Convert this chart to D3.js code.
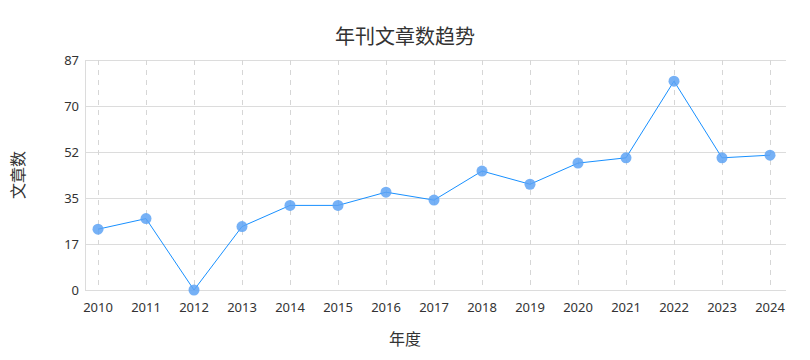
<!DOCTYPE html>
<html>
<head>
<meta charset="utf-8">
<script src="https://cdn.jsdelivr.net/npm/d3@7"></script>
<style>
  body { margin: 0; background: #fff; }
  svg text { font-family: "Noto Sans", "Noto Sans CJK SC", sans-serif; }
</style>
</head>
<body>
<div id="chart"></div>
<script>
// data
var years = ["2010", "2011", "2012", "2013", "2014", "2015", "2016", "2017",
             "2018", "2019", "2020", "2021", "2022", "2023", "2024"];
var counts = [23, 27, 0, 24, 32, 32, 37, 34, 45, 40, 48, 50, 79, 50, 51];
var yMax = 87;
var yTickLabels = ["0", "17", "35", "52", "70", "87"];

var width = 810,
    height = 360,
    margin = {top: 60, right: 24, bottom: 70, left: 85};

var svg = d3.select("#chart")
    .append("svg")
    .attr("width", width)
    .attr("height", height);

var x = d3.scalePoint()
    .domain(years)
    .range([margin.left + 13, width - margin.right - 16]);

var y = d3.scaleLinear()
    .domain([0, yMax])
    .range([height - margin.bottom, margin.top]);

var yTicks = yTickLabels.map(function (d, i) { return yMax * i / (yTickLabels.length - 1); });

// horizontal grid
svg.append("g")
    .selectAll("line")
    .data(yTicks)
    .enter()
    .append("line")
    .attr("x1", margin.left)
    .attr("x2", width - margin.right)
    .attr("y1", function (d) { return Math.round(y(d)) + 0.5; })
    .attr("y2", function (d) { return Math.round(y(d)) + 0.5; })
    .style("stroke", "#dcdcdc")
    .style("stroke-width", 1);

// vertical dashed grid
svg.append("g")
    .selectAll("line")
    .data(years)
    .enter()
    .append("line")
    .attr("x1", function (d) { return Math.round(x(d)) + 0.5; })
    .attr("x2", function (d) { return Math.round(x(d)) + 0.5; })
    .attr("y1", margin.top)
    .attr("y2", height - margin.bottom)
    .style("stroke", "#d6d6d6")
    .style("stroke-dasharray", "5,5");

// left axis line
svg.append("line")
    .attr("x1", margin.left + 0.5)
    .attr("x2", margin.left + 0.5)
    .attr("y1", margin.top)
    .attr("y2", height - margin.bottom)
    .style("stroke", "#dcdcdc");

// y tick labels
svg.append("g")
    .selectAll("text")
    .data(yTicks)
    .enter()
    .append("text")
    .attr("x", margin.left - 6)
    .attr("y", function (d) { return y(d); })
    .attr("dy", "0.35em")
    .attr("text-anchor", "end")
    .style("font-size", "13px")
    .style("fill", "#333")
    .text(function (d, i) { return yTickLabels[i]; });

// x tick labels
svg.append("g")
    .selectAll("text")
    .data(years)
    .enter()
    .append("text")
    .attr("x", function (d) { return x(d); })
    .attr("y", height - margin.bottom + 22)
    .attr("text-anchor", "middle")
    .style("font-size", "13px")
    .style("fill", "#333")
    .text(function (d) { return d; });

// line
var line = d3.line()
    .x(function (d, i) { return x(years[i]); })
    .y(function (d) { return y(d); });

svg.append("path")
    .datum(counts)
    .attr("d", line)
    .style("fill", "none")
    .style("stroke", "#1890ff")
    .style("stroke-width", 1);

// points
svg.append("g")
    .selectAll("circle")
    .data(counts)
    .enter()
    .append("circle")
    .attr("cx", function (d, i) { return x(years[i]); })
    .attr("cy", function (d) { return y(d); })
    .attr("r", 5.5)
    .style("fill", "#5ea3f5")
    .style("opacity", 0.85);

// title
svg.append("text")
    .attr("x", width / 2)
    .attr("y", 44)
    .attr("text-anchor", "middle")
    .style("font-family", "'Noto Sans CJK SC', sans-serif")
    .style("font-size", "20px")
    .style("fill", "#333")
    .text("年刊文章数趋势");

// axis titles
svg.append("text")
    .attr("x", width / 2)
    .attr("y", 345)
    .attr("text-anchor", "middle")
    .style("font-family", "'Noto Sans CJK SC', sans-serif")
    .style("font-size", "16px")
    .style("fill", "#333")
    .text("年度");

svg.append("text")
    .attr("transform", "translate(24," + ((margin.top + height - margin.bottom) / 2) + ") rotate(-90)")
    .attr("text-anchor", "middle")
    .style("font-family", "'Noto Sans CJK SC', sans-serif")
    .style("font-size", "16px")
    .style("fill", "#333")
    .text("文章数");
</script>
</body>
</html>
